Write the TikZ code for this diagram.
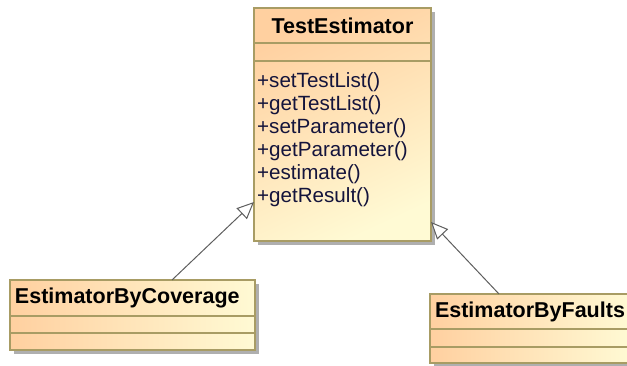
\documentclass[tikz,border=0pt]{standalone}
\usepackage{fontspec}
\setmainfont{Liberation Sans}
\usetikzlibrary{positioning,shadows,arrows.meta}

\definecolor{peach}{HTML}{FFD0A0}
\definecolor{cream}{HTML}{FFFAD4}
\definecolor{umlline}{HTML}{A89C64}
\definecolor{arrowgray}{HTML}{5E5E5E}
\definecolor{optext}{HTML}{14143C}

\tikzset{
    classbox/.style={draw=umlline,line width=1.2pt,outer sep=0pt,
        drop shadow={shadow xshift=4pt,shadow yshift=-4pt,fill=black!35,opacity=0.9}},
    namepart/.style={draw=umlline,line width=1.2pt,outer sep=0pt,inner xsep=5pt,
        font=\fontsize{21.5}{24}\selectfont\bfseries},
    part/.style={draw=umlline,line width=1.2pt,outer sep=0pt},
    ops/.style={inner sep=0pt,align=left,text=optext,
        font=\fontsize{20.6}{23.1}\selectfont},
    inherit/.style={draw=arrowgray,line width=1pt,
        -{Triangle[length=17pt,width=15pt,fill=white]}}
}

\begin{document}
\begin{tikzpicture}[x=1pt,y=1pt]
    \useasboundingbox (0,0) rectangle (627,365);

    %%% TestEstimator %%%
    \node[classbox,top color=peach,bottom color=cream,shading angle=25,
        minimum width=177pt,minimum height=233pt] (est) at (342.5,240.5) {};
    \node[namepart,anchor=north,minimum width=177pt,minimum height=35pt]
        (estname) at (est.north) {TestEstimator};
    \node[part,below=0pt of estname,minimum width=177pt,minimum height=18pt] (estattr) {};
    \node[ops,below right=11pt and 3pt of estattr.south west] (estops)
        {+setTestList()\\+getTestList()\\+setParameter()\\+getParameter()\\+estimate()\\+getResult()};

    %%% EstimatorByCoverage %%%
    \node[classbox,left color=peach,right color=cream,
        minimum width=245pt,minimum height=70pt] (cov) at (132.5,50) {};
    \node[namepart,anchor=north,text width=235pt,align=left,minimum height=36pt]
        (covname) at (cov.north) {EstimatorByCoverage};
    \node[part,below=0pt of covname,minimum width=245pt,minimum height=17pt] (covattr) {};

    %%% EstimatorByFaults %%%
    \node[classbox,left color=peach,right color=cream,
        minimum width=202pt,minimum height=69pt] (flt) at (531,36.5) {};
    \node[namepart,anchor=north,text width=192pt,align=left,minimum height=35pt]
        (fltname) at (flt.north) {EstimatorByFaults};
    \node[part,below=0pt of fltname,minimum width=202pt,minimum height=18pt] (fltattr) {};

    %%% Generalisations %%%
    \draw[inherit] ([xshift=39.5pt]cov.north) -- ([yshift=-77.5pt]est.west);
    \draw[inherit] ([xshift=-32pt]flt.north) -- ([yshift=-97.5pt]est.east);

\end{tikzpicture}
\end{document}
